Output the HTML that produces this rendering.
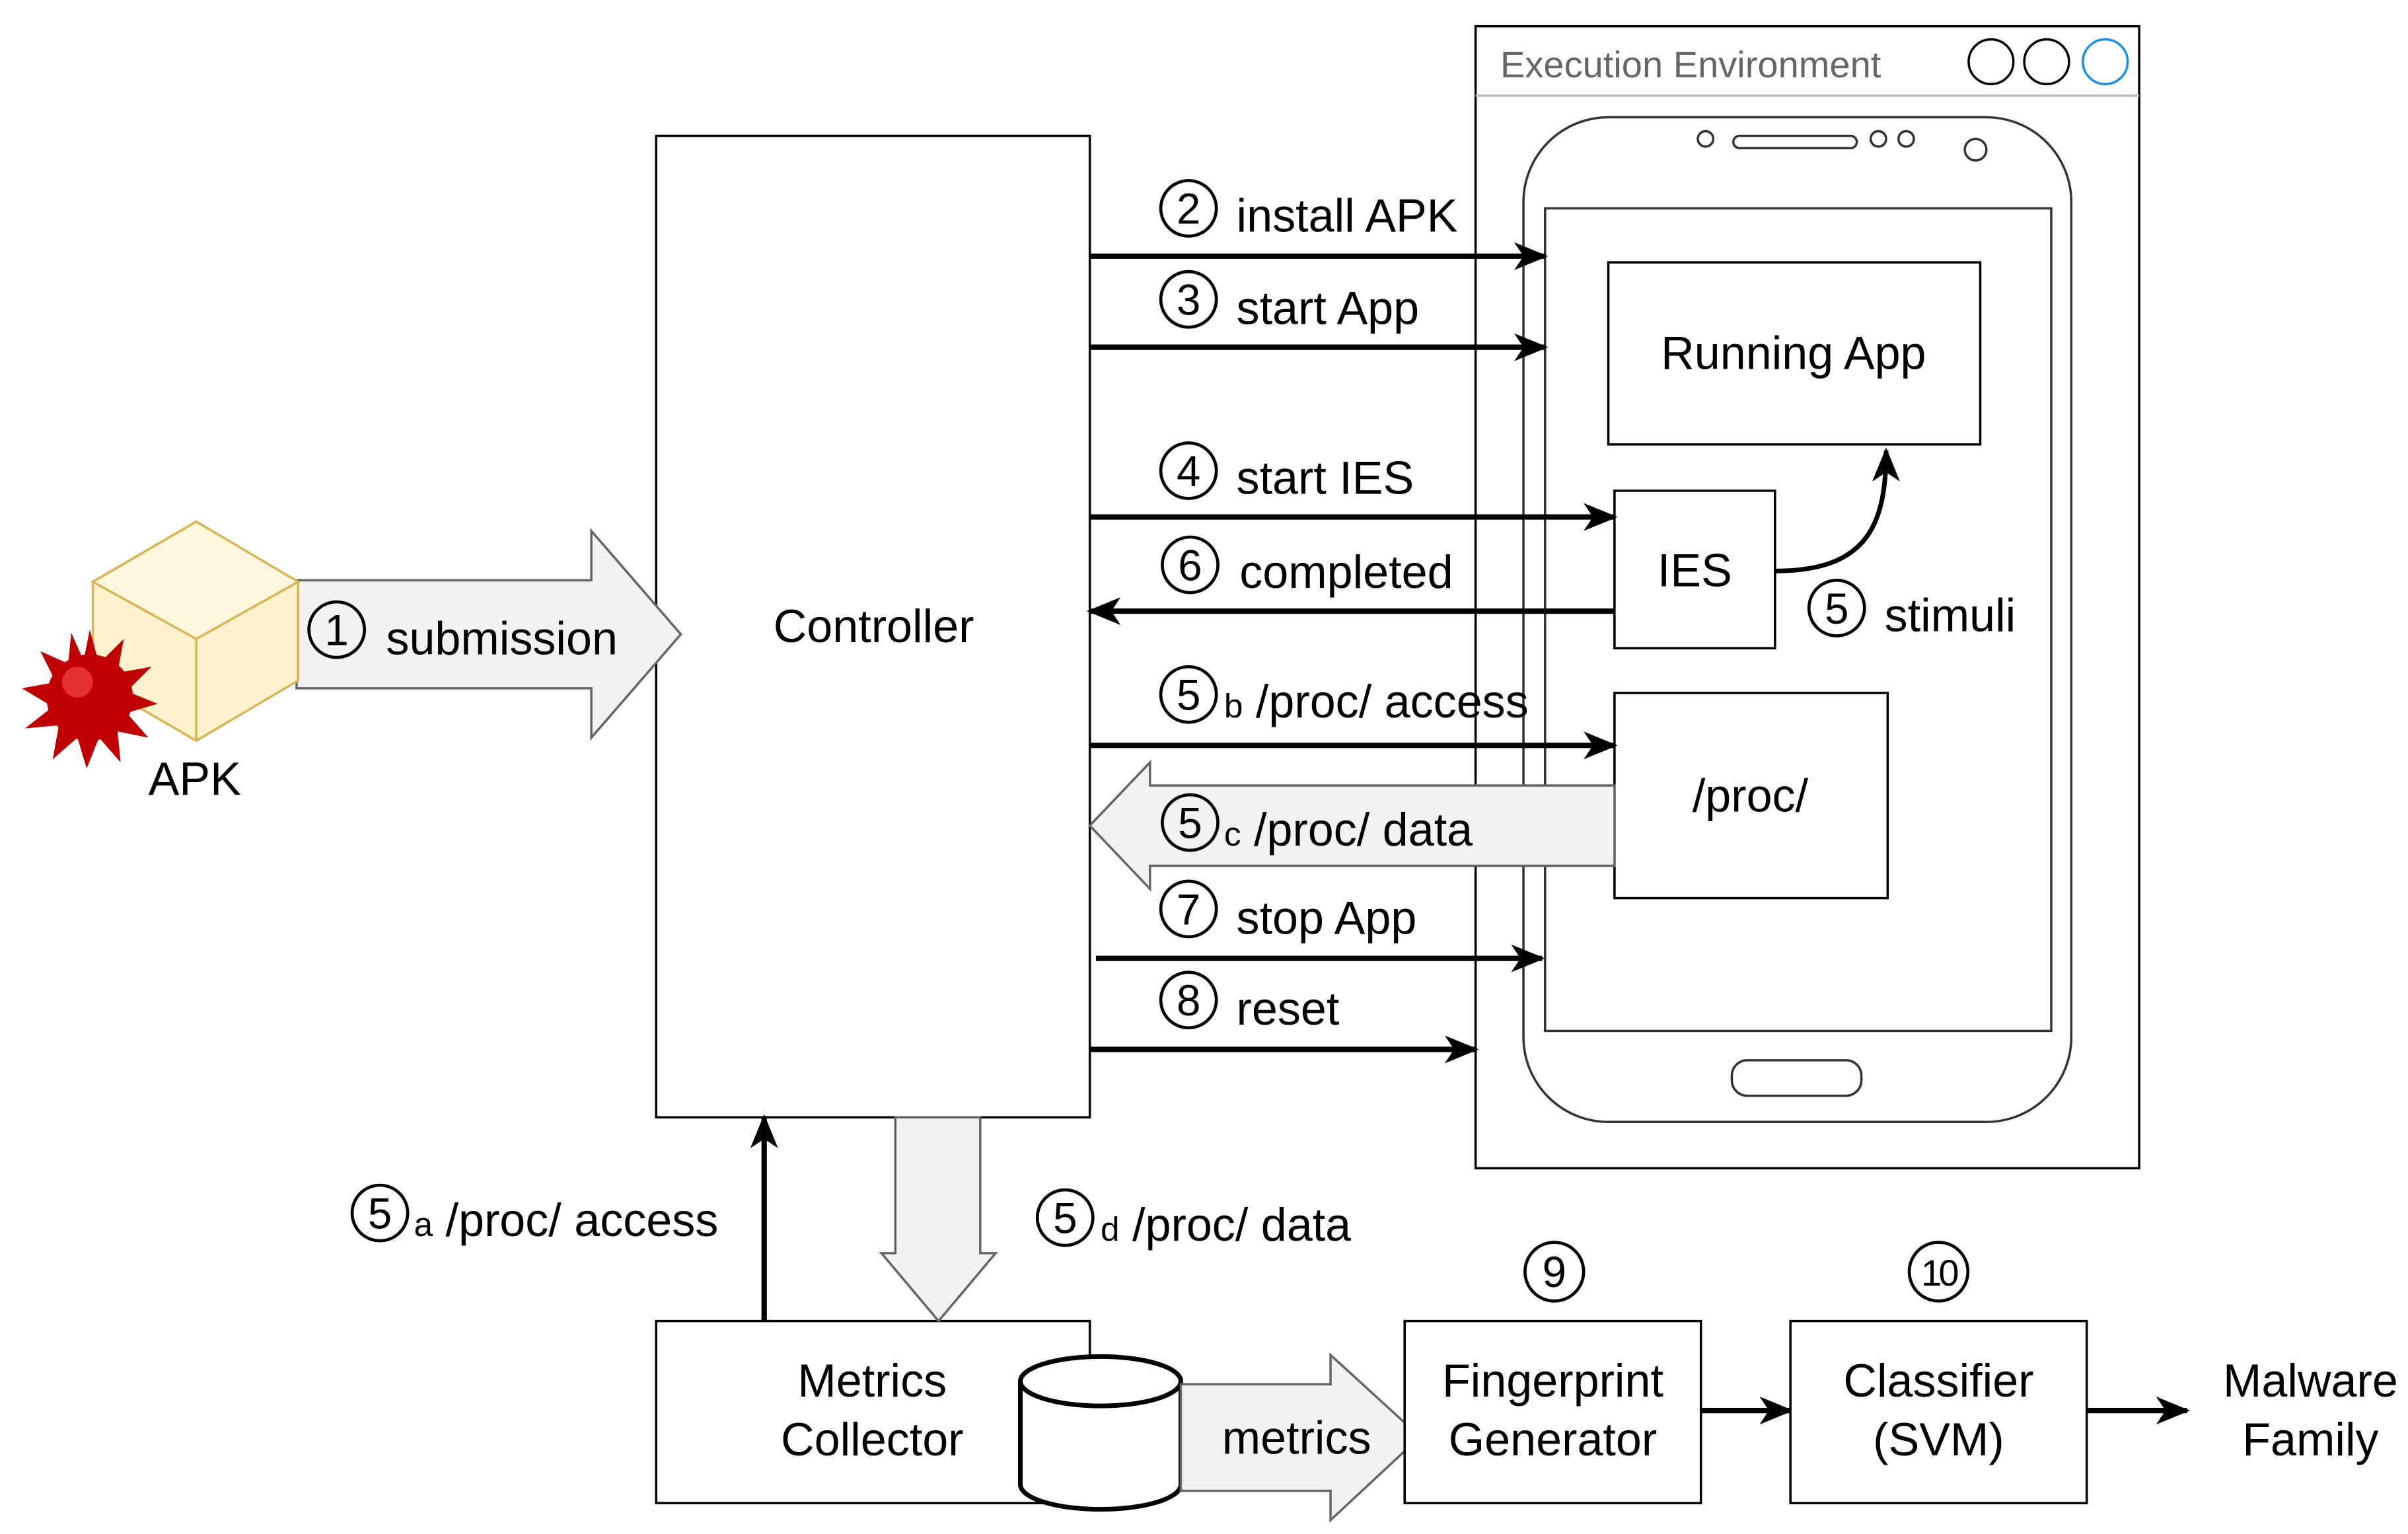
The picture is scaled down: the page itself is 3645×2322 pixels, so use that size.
<!DOCTYPE html>
<html><head><meta charset="utf-8"><style>
html,body{margin:0;padding:0;background:#fff}
svg{display:block}
text{font-family:"Liberation Sans","DejaVu Sans",sans-serif;fill:#000}
</style></head><body>
<svg width="3645" height="2322" viewBox="0 0 1560 994" xmlns="http://www.w3.org/2000/svg">
<defs>
<marker id="ah2" markerWidth="22" markerHeight="22" refX="20" refY="11" orient="auto" markerUnits="userSpaceOnUse" viewBox="0 0 22 22">
<path d="M0,2 L22,11 L0,20 L6,11 Z" fill="#000"/></marker>
</defs>
<rect x="956" y="17" width="430" height="740" fill="#fff" stroke="#000" stroke-width="1.5"/>
<line x1="956" y1="62" x2="1386" y2="62" stroke="#bbb" stroke-width="1.5"/>
<text x="972" y="50" font-size="24" style="fill:#666">Execution Environment</text>
<circle cx="1290" cy="40" r="14.5" fill="#fff" stroke="#000" stroke-width="1.5"/>
<circle cx="1326" cy="40" r="14.5" fill="#fff" stroke="#000" stroke-width="1.5"/>
<circle cx="1364" cy="40" r="14.5" fill="#fff" stroke="#1a8fe3" stroke-width="1.5"/>
<rect x="987" y="76" width="355" height="651" rx="55" fill="#fff" stroke="#333" stroke-width="1.5"/>
<rect x="1001" y="135" width="328" height="533" fill="#fff" stroke="#333" stroke-width="1.5"/>
<rect x="1122" y="687" width="84" height="23" rx="10" fill="#fff" stroke="#333" stroke-width="1.5"/>
<rect x="1123" y="88" width="80" height="8" rx="4" fill="#fff" stroke="#333" stroke-width="1.5"/>
<circle cx="1105" cy="90" r="5" fill="#fff" stroke="#333" stroke-width="1.5"/>
<circle cx="1217" cy="90" r="5" fill="#fff" stroke="#333" stroke-width="1.5"/>
<circle cx="1235" cy="90" r="5" fill="#fff" stroke="#333" stroke-width="1.5"/>
<circle cx="1280" cy="97" r="7" fill="#fff" stroke="#333" stroke-width="1.5"/>
<rect x="1042" y="170" width="241" height="118" fill="#fff" stroke="#000" stroke-width="1.5"/>
<text x="1162" y="239" font-size="30" text-anchor="middle">Running App</text>
<rect x="1046" y="318" width="104" height="102" fill="#fff" stroke="#000" stroke-width="1.5"/>
<text x="1098" y="380" font-size="30" text-anchor="middle">IES</text>
<rect x="1046" y="449" width="177" height="133" fill="#fff" stroke="#000" stroke-width="1.5"/>
<text x="1134" y="526" font-size="30" text-anchor="middle">/proc/</text>
<path d="M1150,370 C1210,370 1222,340 1222,292" fill="none" stroke="#000" stroke-width="3" marker-end="url(#ah2)"/>
<rect x="425" y="88" width="281" height="636" fill="#fff" stroke="#000" stroke-width="1.5"/>
<text x="566" y="416" font-size="30" text-anchor="middle">Controller</text>
<g stroke="#000" stroke-width="3.5" fill="none">
<line x1="706" y1="166" x2="1001" y2="166" marker-end="url(#ah2)"/>
<line x1="706" y1="225" x2="1001" y2="225" marker-end="url(#ah2)"/>
<line x1="706" y1="335" x2="1046" y2="335" marker-end="url(#ah2)"/>
<line x1="1046" y1="396" x2="706" y2="396" marker-end="url(#ah2)"/>
<line x1="706" y1="483" x2="1046" y2="483" marker-end="url(#ah2)"/>
<line x1="710" y1="621" x2="999" y2="621" marker-end="url(#ah2)"/>
<line x1="706" y1="680" x2="956" y2="680" marker-end="url(#ah2)"/>
<line x1="495" y1="856" x2="495" y2="724" marker-end="url(#ah2)"/>
<line x1="1102" y1="914" x2="1160" y2="914" marker-end="url(#ah2)"/>
<line x1="1352" y1="914" x2="1417" y2="914" marker-end="url(#ah2)"/>
</g>
<path d="M1046,509 L745,509 L745,494 L706,535 L745,576 L745,561 L1046,561 Z" fill="#f2f2f2" stroke="#666" stroke-width="1.5"/>
<path d="M192,376 L383,376 L383,344 L441,411 L383,478 L383,446 L192,446 Z" fill="#f2f2f2" stroke="#666" stroke-width="1.5"/>
<path d="M60,377 L127,338 L193,377 L193,441 L127,480 L60,441 Z" fill="#fff2cc" stroke="#d6b656" stroke-width="1.5"/>
<path d="M60,377 L127,414 L193,377 M127,414 L127,480" fill="none" stroke="#d6b656" stroke-width="1.5"/>
<path d="M60,377 L127,338 L193,377 L127,414 Z" fill="#fff7dd" stroke="#d6b656" stroke-width="1.5"/>
<g fill="#c00000">
<circle cx="58" cy="452" r="28"/>
<path d="M58,408 L64,430 L80,414 L76,436 L98,432 L82,448 L102,456 L82,462 L96,478 L76,474 L78,494 L64,478 L56,498 L50,478 L34,492 L38,470 L16,472 L34,458 L14,446 L36,442 L26,422 L44,430 L46,410 L54,428 Z"/>
</g>
<circle cx="50" cy="442" r="10" fill="#e53030"/>
<text x="126" y="515" font-size="30" text-anchor="middle">APK</text>
<rect x="425" y="856" width="281" height="118" fill="#fff" stroke="#000" stroke-width="1.5"/>
<text x="565" y="905" font-size="30" text-anchor="middle">Metrics</text>
<text x="565" y="943" font-size="30" text-anchor="middle">Collector</text>
<path d="M661,895 L661,962 A52,16 0 0 0 765,962 L765,895" fill="#fff" stroke="#000" stroke-width="3"/>
<ellipse cx="713" cy="895" rx="52" ry="16" fill="#fff" stroke="#000" stroke-width="3"/>
<path d="M580,724 L635,724 L635,812 L645,812 L608,856 L571,812 L580,812 Z" fill="#f2f2f2" stroke="#666" stroke-width="1.5"/>
<path d="M765,897 L862,897 L862,878 L920,931 L862,985 L862,966 L765,966 Z" fill="#f2f2f2" stroke="#666" stroke-width="1.5"/>
<text x="840" y="942" font-size="30" text-anchor="middle">metrics</text>
<rect x="910" y="856" width="192" height="118" fill="#fff" stroke="#000" stroke-width="1.5"/>
<text x="1006" y="905" font-size="30" text-anchor="middle">Fingerprint</text>
<text x="1006" y="943" font-size="30" text-anchor="middle">Generator</text>
<rect x="1160" y="856" width="192" height="118" fill="#fff" stroke="#000" stroke-width="1.5"/>
<text x="1256" y="905" font-size="30" text-anchor="middle">Classifier</text>
<text x="1256" y="943" font-size="30" text-anchor="middle">(SVM)</text>
<text x="1497" y="905" font-size="30" text-anchor="middle">Malware</text>
<text x="1497" y="943" font-size="30" text-anchor="middle">Family</text>

<!-- circled numbers -->
<g fill="none" stroke="#000" stroke-width="2">
<circle cx="770" cy="135" r="18"/>
<circle cx="770" cy="194" r="18"/>
<circle cx="770" cy="305" r="18"/>
<circle cx="771" cy="366" r="18"/>
<circle cx="770" cy="450" r="18"/>
<circle cx="771" cy="533" r="18"/>
<circle cx="770" cy="589" r="18"/>
<circle cx="770" cy="648" r="18"/>
<circle cx="1190" cy="394" r="18"/>
<circle cx="218" cy="408" r="18"/>
<circle cx="246" cy="786" r="18"/>
<circle cx="690" cy="789" r="18"/>
<circle cx="1007" cy="824" r="19"/>
<circle cx="1256" cy="824" r="19"/>
</g>
<g font-size="28" text-anchor="middle">
<text x="770" y="145">2</text>
<text x="770" y="204">3</text>
<text x="770" y="315">4</text>
<text x="771" y="376">6</text>
<text x="770" y="460">5</text>
<text x="771" y="543">5</text>
<text x="770" y="599">7</text>
<text x="770" y="658">8</text>
<text x="1190" y="404">5</text>
<text x="218" y="418">1</text>
<text x="246" y="796">5</text>
<text x="690" y="799">5</text>
<text x="1007" y="834">9</text>
<text x="1256" y="833" font-size="24" letter-spacing="-2">10</text>
</g>
<g font-size="30">
<text x="801" y="150">install APK</text>
<text x="801" y="210">start App</text>
<text x="801" y="320">start IES</text>
<text x="803" y="381">completed</text>
<text x="793" y="465"><tspan font-size="22">b</tspan> /proc/ access</text>
<text x="793" y="548"><tspan font-size="22">c</tspan> /proc/ data</text>
<text x="801" y="605">stop App</text>
<text x="801" y="664">reset</text>
<text x="1221" y="409">stimuli</text>
<text x="250" y="424">submission</text>
<text x="268" y="801"><tspan font-size="22">a</tspan> /proc/ access</text>
<text x="713" y="804"><tspan font-size="22">d</tspan> /proc/ data</text>
</g>
</svg>
</body></html>
